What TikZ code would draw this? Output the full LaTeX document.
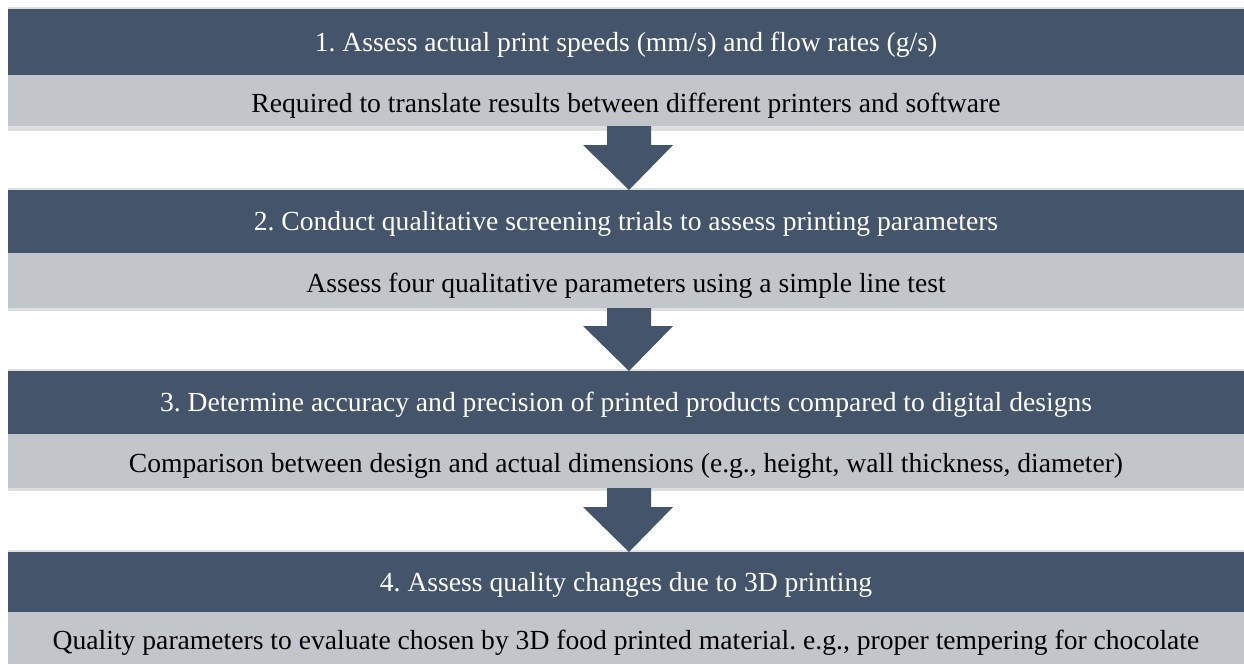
\documentclass[tikz,border=0pt]{standalone}
\usepackage{fontspec}
\setmainfont{Liberation Serif}
\usetikzlibrary{calc}
\definecolor{darkband}{HTML}{44546A}
\definecolor{lightband}{HTML}{C2C5CA}
\definecolor{edgeband}{HTML}{DDDEE0}
\begin{document}
\frenchspacing
\begin{tikzpicture}[x=1pt,y=-1pt,
  band/.style={anchor=north west, minimum width=1236pt, inner sep=0pt, outer sep=0pt,
    font=\fontsize{27.6}{32}\selectfont},
  headband/.style={band, fill=darkband, text=white, text height=20pt, text depth=2pt},
  subband/.style={band, fill=lightband, text=black, text height=23pt, text depth=0pt},
  blockarrow/.style={fill=darkband}]
\useasboundingbox (0,0) rectangle (1244,664);
\fill[white] (0,0) rectangle (1244,664);
% soft edges
\fill[edgeband] (8,7) rectangle (1244,131);
\fill[edgeband] (8,188) rectangle (1244,311);
\fill[edgeband] (8,369) rectangle (1244,491);
\fill[edgeband] (8,550) rectangle (1244,664);
% box 1
\node[headband, minimum height=66pt] (h1) at (8,9) {1. Assess actual print speeds (mm/s) and flow rates (g/s)};
\node[subband, minimum height=51pt] (s1) at (8,75) {Required to translate results between different printers and software};
% box 2
\node[headband, minimum height=63pt] (h2) at (8,190) {2. Conduct qualitative screening trials to assess printing parameters};
\node[subband, minimum height=55pt] (s2) at (8,253) {Assess four qualitative parameters using a simple line test};
% box 3
\node[headband, minimum height=63pt] (h3) at (8,371) {3. Determine accuracy and precision of printed products compared to digital designs};
\node[subband, minimum height=54pt] (s3) at (8,434) {Comparison between design and actual dimensions (e.g., height, wall thickness, diameter)};
% box 4
\node[headband, minimum height=60pt] (h4) at (8,552) {4. Assess quality changes due to 3D printing};
\node[subband, minimum height=52pt] (s4) at (8,612) {Quality parameters to evaluate chosen by 3D food printed material. e.g., proper tempering for chocolate};
% arrows
\foreach \s/\h in {s1/h2, s2/h3, s3/h4}{
  \coordinate (tip) at ($(\h.north)+(3,0)$);
  \coordinate (top) at ($(\s.south)+(3,0)$);
  \fill[blockarrow] (top) ++(-22,0) -- ($(tip)+(-22,-45)$) -- ($(tip)+(-46,-45)$) -- (tip)
     -- ($(tip)+(44,-45)$) -- ($(tip)+(22,-45)$) -- ($(top)+(22,0)$) -- cycle;
}
\end{tikzpicture}
\end{document}
